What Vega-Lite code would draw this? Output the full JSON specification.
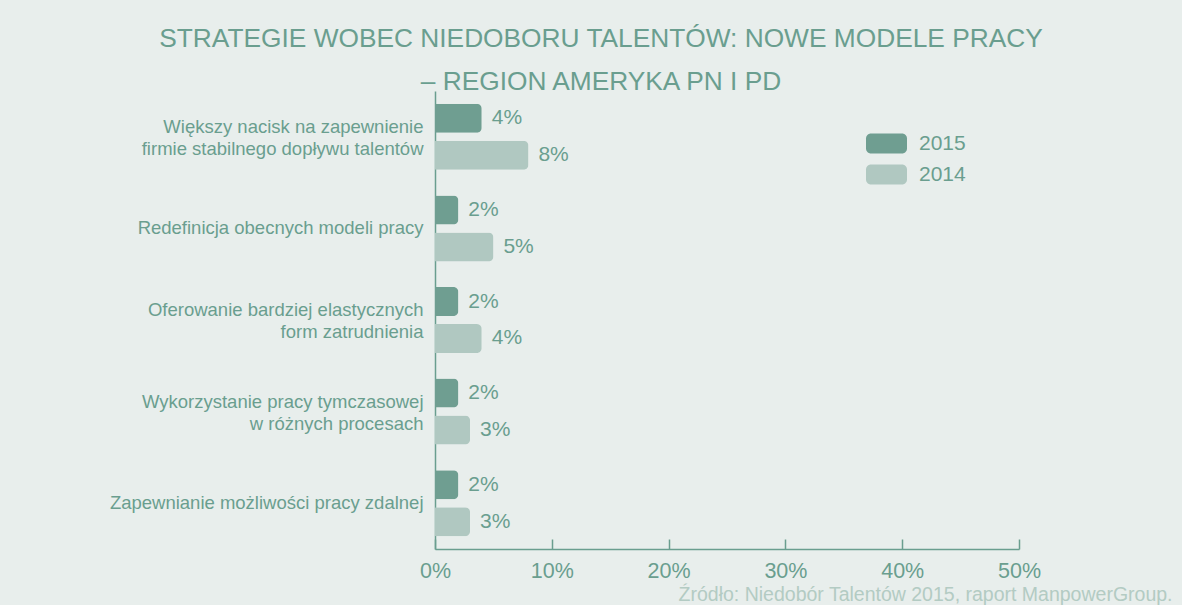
{
  "$schema": "https://vega.github.io/schema/vega-lite/v6.json",
  "autosize": "none",
  "width": 584,
  "height": 458,
  "padding": {"left": 435, "top": 91, "right": 163, "bottom": 56},
  "background": "#e8eeec",
  "title": {
    "text": ["STRATEGIE WOBEC NIEDOBORU TALENTÓW: NOWE MODELE PRACY", "– REGION AMERYKA PN I PD"],
    "anchor": "middle",
    "dx": -126,
    "offset": -4,
    "fontSize": 26.3,
    "fontWeight": "normal",
    "font": "Liberation Sans",
    "color": "#6a9e8f",
    "lineHeight": 43
  },
  "data": {
    "values": [
      {"category": "Większy nacisk na zapewnienie\nfirmie stabilnego dopływu talentów", "year": "2015", "value": 0.04},
      {"category": "Większy nacisk na zapewnienie\nfirmie stabilnego dopływu talentów", "year": "2014", "value": 0.08},
      {"category": "Redefinicja obecnych modeli pracy", "year": "2015", "value": 0.02},
      {"category": "Redefinicja obecnych modeli pracy", "year": "2014", "value": 0.05},
      {"category": "Oferowanie bardziej elastycznych\nform zatrudnienia", "year": "2015", "value": 0.02},
      {"category": "Oferowanie bardziej elastycznych\nform zatrudnienia", "year": "2014", "value": 0.04},
      {"category": "Wykorzystanie pracy tymczasowej\nw różnych procesach", "year": "2015", "value": 0.02},
      {"category": "Wykorzystanie pracy tymczasowej\nw różnych procesach", "year": "2014", "value": 0.03},
      {"category": "Zapewnianie możliwości pracy zdalnej", "year": "2015", "value": 0.02},
      {"category": "Zapewnianie możliwości pracy zdalnej", "year": "2014", "value": 0.03}
    ]
  },
  "encoding": {
    "y": {
      "field": "category",
      "type": "nominal",
      "sort": null,
      "scale": {"paddingInner": 0, "paddingOuter": 0},
      "axis": {
        "title": null,
        "ticks": false,
        "labelExpr": "split(datum.label, '\\n')",
        "labelOffset": {"condition": {"test": "indexof(datum.value, '\\n') >= 0", "value": -10}, "value": 0},
        "labelLineHeight": 22,
        "labelFontSize": 18.5,
        "labelFont": "Liberation Sans",
        "labelColor": "#6a9e8f",
        "labelPadding": 12,
        "labelLimit": 420,
        "domainColor": "#6a9e8f",
        "domainWidth": 1.5
      }
    },
    "yOffset": {
      "field": "year",
      "type": "nominal",
      "sort": ["2015", "2014"],
      "scale": {"paddingInner": 0.216, "paddingOuter": 0.346}
    },
    "x": {
      "field": "value",
      "type": "quantitative",
      "scale": {"domain": [0, 0.5], "nice": false},
      "axis": {
        "format": ".0%",
        "values": [0, 0.1, 0.2, 0.3, 0.4, 0.5],
        "grid": false,
        "labelFlush": false,
        "labelOverlap": false,
        "tickSize": -10,
        "tickColor": "#6a9e8f",
        "tickWidth": 1.5,
        "domainColor": "#6a9e8f",
        "domainWidth": 1.5,
        "labelFontSize": 21.5,
        "labelFont": "Liberation Sans",
        "labelColor": "#6a9e8f",
        "labelPadding": 21,
        "title": "Źródło: Niedobór Talentów 2015, raport ManpowerGroup.",
        "titleX": 737,
        "titleY": 51,
        "titleAlign": "right",
        "titleAnchor": null,
        "titleBaseline": "alphabetic",
        "titleFontSize": 19.5,
        "titleFont": "Liberation Sans",
        "titleFontWeight": "normal",
        "titleColor": "#b3cbc3"
      }
    }
  },
  "layer": [
    {
      "mark": {"type": "bar", "cornerRadiusEnd": 5},
      "encoding": {
        "color": {
          "field": "year",
          "type": "nominal",
          "scale": {"domain": ["2015", "2014"], "range": ["#6f9e91", "#b0c8c1"]},
          "legend": {
            "title": null,
            "orient": "none",
            "legendX": 431,
            "legendY": 32,
            "padding": 0,
            "symbolType": "M-0.756,-0.488H0.756A0.244,0.244,0,0,1,1,-0.244V0.244A0.244,0.244,0,0,1,0.756,0.488H-0.756A0.244,0.244,0,0,1,-1,0.244V-0.244A0.244,0.244,0,0,1,-0.756,-0.488Z",
            "symbolSize": 1681,
            "symbolStrokeWidth": 0,
            "symbolOpacity": 1,
            "rowPadding": -14,
            "labelFontSize": 21,
            "labelFont": "Liberation Sans",
            "labelColor": "#6a9e8f",
            "labelOffset": 12
          }
        }
      }
    },
    {
      "mark": {"type": "text", "align": "left", "baseline": "middle", "dx": 10, "fontSize": 21, "font": "Liberation Sans", "color": "#6a9e8f"},
      "encoding": {
        "text": {"field": "value", "type": "quantitative", "format": ".0%"}
      }
    }
  ],
  "config": {
    "view": {"stroke": null}
  }
}
